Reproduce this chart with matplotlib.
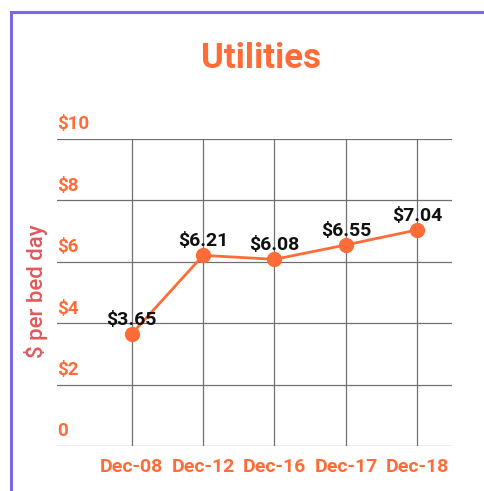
import matplotlib
matplotlib.use("Agg")
import matplotlib.pyplot as plt
from matplotlib.patches import Rectangle
from matplotlib import transforms

plt.rcParams['font.family'] = ['Roboto', 'DejaVu Sans']

# Utilities cost per bed day
periods = ["Dec-08", "Dec-12", "Dec-16", "Dec-17", "Dec-18"]
cost = [3.65, 6.21, 6.08, 6.55, 7.04]
y_ticks = [0, 2, 4, 6, 8, 10]
y_tick_labels = ["0", "$2", "$4", "$6", "$8", "$10"]

ORANGE = "#FF6C37"
LABEL_RED = "#E0585B"
GRID = "#707070"
BORDER = "#7B68E6"

fig = plt.figure(figsize=(4.85, 4.91), dpi=100)
W, H = 485, 491

# card outline
fig.patches.append(Rectangle((11.5 / W, -0.1), 1.2, (H - 12) / H + 0.1,
                             transform=fig.transFigure, fill=False,
                             edgecolor=BORDER, linewidth=2.2))

ax = fig.add_axes([57 / W, (H - 446) / H, (452 - 57) / W, (446 - 139) / H])
x = list(range(len(periods)))

ax.set_xlim(-1.046, 4.486)
ax.set_ylim(0, 10)
for s in ax.spines.values():
    s.set_visible(False)

ax.set_yticks(y_ticks)
ax.set_yticklabels([])
ax.set_xticks(x)
ax.set_xticklabels(periods, fontsize=14, fontweight='bold', color=ORANGE)
ax.tick_params(axis='both', length=0)
ax.tick_params(axis='x', pad=9)
ax.grid(True, color=GRID, linewidth=0.9)
ax.set_axisbelow(True)

# y tick labels sit above their gridlines, left aligned
off = transforms.offset_copy(ax.get_yaxis_transform(), fig=fig, x=0, y=4, units='points')
for v, lab in zip(y_ticks, y_tick_labels):
    ax.text(0, v, lab, transform=off, ha='left', va='bottom',
            fontsize=13.5, fontweight='bold', color=ORANGE)

ax.plot(x, cost, color=ORANGE, linewidth=2, marker='o', markersize=10,
        zorder=3, clip_on=False)
for xi, v in zip(x, cost):
    ax.annotate(f"${v:.2f}", (xi, v), xytext=(0, 3.5), textcoords='offset points',
                ha='center', va='bottom', fontsize=14, fontweight='bold',
                color='#111111', zorder=4)

fig.text(261 / W, 1 - 59 / H, "Utilities", ha='center', va='center',
         fontsize=25, fontweight='bold', color=ORANGE)
fig.text(36 / W, 1 - 291 / H, "$ per bed day", ha='center', va='center',
         rotation=90, fontsize=16, fontweight='medium', color=LABEL_RED)

fig.savefig("out.png", dpi=100)
